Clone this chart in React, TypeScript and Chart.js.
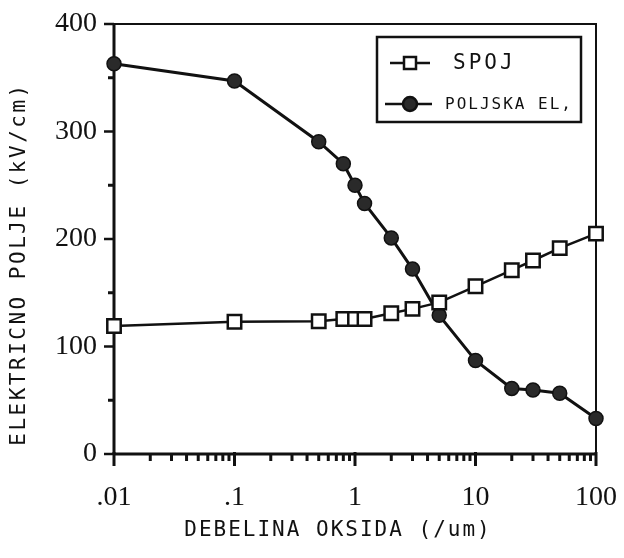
import React, { useEffect, useRef } from "react";
import { Chart, registerables } from "chart.js";

Chart.register(...registerables);

// ---- data ----
const thickness = [0.01, 0.1, 0.5, 0.8, 1, 1.2, 2, 3, 5, 10, 20, 30, 50, 100];
const spojValues = [119, 123, 123.5, 125.5, 125.5, 125.5, 131, 135, 141, 156, 171, 180, 191.5, 205];
const poljskaValues = [363, 347, 290.5, 270, 250, 233, 201, 172, 129, 87, 61, 59.5, 56.5, 33];
const seriesNames = ["SPOJ", "POLJSKA EL,"];
const xTickValues = [0.01, 0.1, 1, 10, 100];
const xTickLabels = [".01", ".1", "1", "10", "100"];
const yTickValues = [0, 100, 200, 300, 400];
const yMinorValues = [50, 150, 250, 350];
const xTitle = "DEBELINA OKSIDA (/um)";
const yTitle = "ELEKTRIČNO POLJE (kV/cm)";

const INK = "#111111";
const MONO = '"DejaVu Sans Mono", "Liberation Mono", monospace';
const SERIF = '"Liberation Serif", "DejaVu Serif", serif';

function line(ctx: CanvasRenderingContext2D, x1: number, y1: number, x2: number, y2: number) {
  ctx.beginPath();
  ctx.moveTo(x1, y1);
  ctx.lineTo(x2, y2);
  ctx.stroke();
}

const decorPlugin = {
  id: "decor",
  beforeDatasetsDraw(chart: any) {
    const { ctx, chartArea: a, scales } = chart;
    const xs = scales.x;
    const ys = scales.y;
    ctx.save();
    ctx.strokeStyle = INK;
    ctx.lineCap = "butt";
    // frame
    ctx.lineWidth = 2;
    ctx.strokeRect(a.left, a.top, a.right - a.left, a.bottom - a.top);
    ctx.lineWidth = 3;
    line(ctx, a.left, a.top - 1, a.left, a.bottom + 1);
    line(ctx, a.left - 1, a.bottom, a.right + 1, a.bottom);
    // y ticks
    ctx.lineWidth = 2.5;
    yTickValues.forEach((v) => {
      const y = ys.getPixelForValue(v);
      line(ctx, a.left - 10, y, a.left, y);
    });
    ctx.lineWidth = 3;
    yMinorValues.forEach((v) => {
      const y = ys.getPixelForValue(v);
      line(ctx, a.left - 6, y, a.left, y);
    });
    // x ticks (log decades with minor ticks)
    xTickValues.forEach((d, i) => {
      const x = xs.getPixelForValue(d);
      ctx.lineWidth = 3;
      line(ctx, x, a.bottom - 2, x, a.bottom + 12);
      if (i < xTickValues.length - 1) {
        ctx.lineWidth = 3;
        for (let k = 2; k <= 9; k++) {
          const xm = xs.getPixelForValue(d * k);
          line(ctx, xm, a.bottom, xm, a.bottom + 7);
        }
      }
    });
    ctx.restore();
  },
  afterDraw(chart: any) {
    const { ctx, chartArea: a } = chart;
    ctx.save();
    ctx.fillStyle = INK;
    ctx.strokeStyle = INK;
    // axis titles
    ctx.font = `21px ${MONO}`;
    (ctx as any).letterSpacing = "2px";
    ctx.textAlign = "center";
    ctx.textBaseline = "middle";
    ctx.fillText(xTitle, (a.left + a.right) / 2 - 17, a.bottom + 77);
    (ctx as any).letterSpacing = "2.5px";
    ctx.save();
    ctx.translate(a.left - 94, (a.top + a.bottom) / 2 + 25);
    ctx.rotate(-Math.PI / 2);
    ctx.fillText(yTitle, 0, 0);
    ctx.restore();

    // legend box
    const L = a.left + 263;
    const T = a.top + 13;
    const R = a.right - 15;
    const B = a.top + 98;
    ctx.lineWidth = 2.5;
    ctx.strokeRect(L, T, R - L, B - T);
    const rows = [a.top + 39, a.top + 80];
    const ds = chart.data.datasets;
    // row 1: square
    ctx.lineWidth = 2.5;
    line(ctx, L + 13, rows[0], L + 53, rows[0]);
    ctx.fillStyle = ds[0].pointBackgroundColor;
    ctx.fillRect(L + 27, rows[0] - 6, 12, 12);
    ctx.strokeRect(L + 27, rows[0] - 6, 12, 12);
    // row 2: circle
    line(ctx, L + 8, rows[1], L + 55, rows[1]);
    ctx.fillStyle = ds[1].pointBackgroundColor;
    ctx.beginPath();
    ctx.arc(L + 33, rows[1], 7, 0, Math.PI * 2);
    ctx.fill();
    ctx.stroke();
    ctx.fillStyle = INK;
    ctx.textAlign = "left";
    ctx.font = `21px ${MONO}`;
    (ctx as any).letterSpacing = "3px";
    ctx.fillText(ds[0].label, L + 76, rows[0] + 1);
    ctx.font = `16px ${MONO}`;
    (ctx as any).letterSpacing = "2px";
    ctx.fillText(ds[1].label, L + 68, rows[1] + 1);
    ctx.restore();
  },
};

export default function App() {
  const canvasRef = useRef<HTMLCanvasElement | null>(null);

  useEffect(() => {
    if (!canvasRef.current) return;
    const chart = new Chart(canvasRef.current, {
      type: "line",
      data: {
        datasets: [
          {
            label: seriesNames[0],
            data: thickness.map((x, i) => ({ x, y: spojValues[i] })),
            borderColor: INK,
            borderWidth: 2.5,
            pointStyle: "rect",
            pointRadius: 9.5,
            pointBorderWidth: 2.5,
            pointBorderColor: INK,
            pointBackgroundColor: "#ffffff",
            tension: 0,
            clip: false,
          },
          {
            label: seriesNames[1],
            data: thickness.map((x, i) => ({ x, y: poljskaValues[i] })),
            borderColor: INK,
            borderWidth: 3,
            pointStyle: "circle",
            pointRadius: 7,
            pointBorderWidth: 1.5,
            pointBorderColor: INK,
            pointBackgroundColor: "#2a2a2a",
            tension: 0,
            clip: false,
          },
        ],
      },
      options: {
        animation: false,
        responsive: true,
        maintainAspectRatio: false,
        layout: { autoPadding: false, padding: { top: 16, right: 20, left: 0, bottom: 0 } },
        plugins: {
          legend: { display: false },
          tooltip: { enabled: false },
          title: { display: false },
        },
        scales: {
          x: {
            type: "logarithmic",
            min: 0.01,
            max: 100,
            grid: { display: false, drawTicks: false },
            border: { display: false },
            afterBuildTicks: (scale: any) => {
              scale.ticks = xTickValues.map((v) => ({ value: v }));
            },
            afterFit: (scale: any) => {
              scale.height = 96;
              scale.paddingLeft = 0;
              scale.paddingRight = 0;
            },
            ticks: {
              autoSkip: false,
              maxRotation: 0,
              padding: 27,
              color: INK,
              font: { family: SERIF, size: 28 },
              callback: (_v: any, i: number) => xTickLabels[i],
            },
          },
          y: {
            type: "linear",
            min: 0,
            max: 400,
            grid: { display: false, drawTicks: false },
            border: { display: false },
            afterBuildTicks: (scale: any) => {
              scale.ticks = yTickValues.map((v) => ({ value: v }));
            },
            afterFit: (scale: any) => {
              scale.width = 106;
              scale.paddingTop = 0;
              scale.paddingBottom = 0;
            },
            ticks: {
              padding: 17,
              color: INK,
              font: { family: SERIF, size: 28 },
              callback: (v: any) => String(v),
            },
          },
        },
      },
      plugins: [decorPlugin],
    } as any);
    return () => chart.destroy();
  }, []);

  return (
    <div style={{ width: 608, height: 542, position: "relative" }}>
      <canvas ref={canvasRef} />
    </div>
  );
}
